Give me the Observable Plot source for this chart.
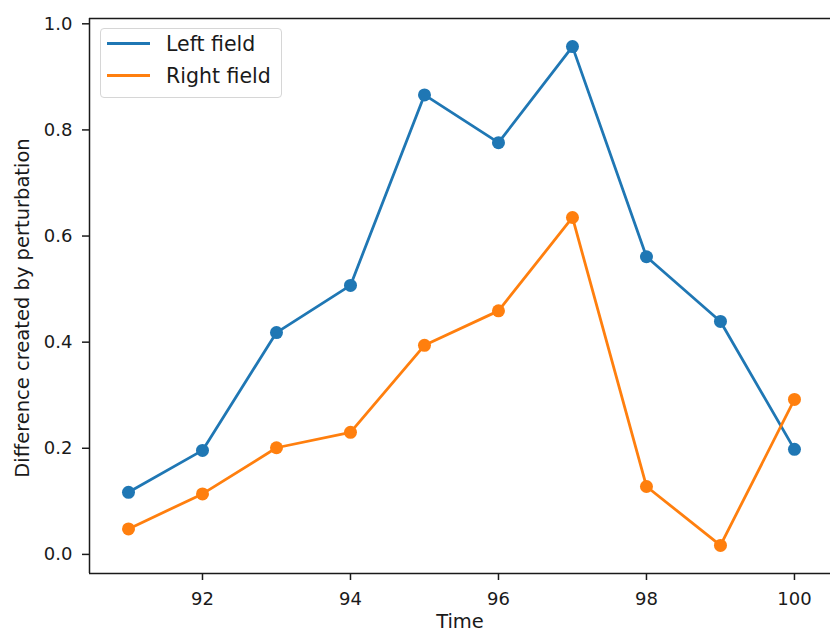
<!DOCTYPE html>
<html>
<head>
<meta charset="utf-8">
<script src="https://cdn.jsdelivr.net/npm/d3@7"></script>
<script src="https://cdn.jsdelivr.net/npm/@observablehq/plot@0.6"></script>
<style>
  html, body { margin: 0; padding: 0; background: #fff; }
  #wrap { position: relative; width: 830px; height: 634px; overflow: hidden; font-family: "DejaVu Sans", sans-serif; }
  #legend { position: absolute; left: 100px; top: 28px; width: 182px; height: 70px; box-sizing: border-box;
            border: 1px solid #d6d6d6; border-radius: 4px; background: rgba(255,255,255,0.8); }
</style>
</head>
<body>
<div id="wrap"></div>
<script>
// ---- data ----
const times = [91, 92, 93, 94, 95, 96, 97, 98, 99, 100];
const leftField = [0.117, 0.196, 0.418, 0.507, 0.866, 0.776, 0.957, 0.561, 0.439, 0.198];
const rightField = [0.048, 0.114, 0.201, 0.230, 0.394, 0.459, 0.635, 0.128, 0.017, 0.292];
const seriesNames = ["Left field", "Right field"];
const seriesColors = ["#1f77b4", "#ff7f0e"];
const xTicks = [92, 94, 96, 98, 100];
const yTicks = [0.0, 0.2, 0.4, 0.6, 0.8, 1.0];
const xLabel = "Time";
const yLabel = "Difference created by perturbation";
const xDomain = [90.473, 100.487];
const yDomain = [-0.036, 1.010];

const seriesValues = [leftField, rightField];
const rows = seriesNames.map((name, s) => times.map((t, i) => ({time: t, value: seriesValues[s][i], series: name})));

const seriesMarks = rows.flatMap(d => [
  Plot.line(d, {x: "time", y: "value", stroke: "series", strokeWidth: 2.8}),
  Plot.dot(d, {x: "time", y: "value", fill: "series", r: 6.5})
]);

const chart = Plot.plot({
  width: 830,
  height: 634,
  marginLeft: 89,
  marginRight: 0,
  marginTop: 18,
  marginBottom: 61,
  style: {fontFamily: "DejaVu Sans, sans-serif", fontSize: "18px", color: "#1a1a1a", background: "white"},
  x: {domain: xDomain},
  y: {domain: yDomain},
  color: {domain: seriesNames, range: seriesColors},
  marks: [
    Plot.axisX({ticks: xTicks, tickSize: 7, tickPadding: 12, strokeWidth: 1.5, label: null, fontSize: 18}),
    Plot.axisY({ticks: yTicks, tickFormat: d3.format(".1f"), tickSize: 7, tickPadding: 10, strokeWidth: 1.5, label: null, fontSize: 18}),
    ...seriesMarks,
    Plot.ruleX([xDomain[0]], {stroke: "#1a1a1a", strokeWidth: 1.5}),
    Plot.ruleY([yDomain[0], yDomain[1]], {stroke: "#1a1a1a", strokeWidth: 1.5}),
    Plot.text([xLabel], {text: d => d, frameAnchor: "bottom", textAnchor: "middle", lineAnchor: "middle", dy: 48, fontSize: 19.5, fill: "#1a1a1a"}),
    Plot.text([yLabel], {text: d => d, frameAnchor: "left", textAnchor: "middle", lineAnchor: "middle", rotate: -90, dx: -67, dy: 12, fontSize: 19.5, fill: "#1a1a1a"})
  ]
});

const wrap = document.getElementById("wrap");
wrap.appendChild(chart);

// legend overlay
const legend = document.createElement("div");
legend.id = "legend";
const ns = "http://www.w3.org/2000/svg";
const lsvg = document.createElementNS(ns, "svg");
lsvg.setAttribute("width", 180);
lsvg.setAttribute("height", 68);
lsvg.style.display = "block";
seriesNames.forEach((name, i) => {
  const cy = 14.5 + i * 32;
  const ln = document.createElementNS(ns, "line");
  ln.setAttribute("x1", 6); ln.setAttribute("x2", 49);
  ln.setAttribute("y1", cy); ln.setAttribute("y2", cy);
  ln.setAttribute("stroke", seriesColors[i]);
  ln.setAttribute("stroke-width", 2.8);
  lsvg.appendChild(ln);
  const tx = document.createElementNS(ns, "text");
  tx.setAttribute("x", 65);
  tx.setAttribute("y", cy + 7.5);
  tx.setAttribute("font-family", "DejaVu Sans, sans-serif");
  tx.setAttribute("font-size", 20.5);
  tx.setAttribute("fill", "#1a1a1a");
  tx.textContent = name;
  lsvg.appendChild(tx);
});
legend.appendChild(lsvg);
wrap.appendChild(legend);
</script>
</body>
</html>
